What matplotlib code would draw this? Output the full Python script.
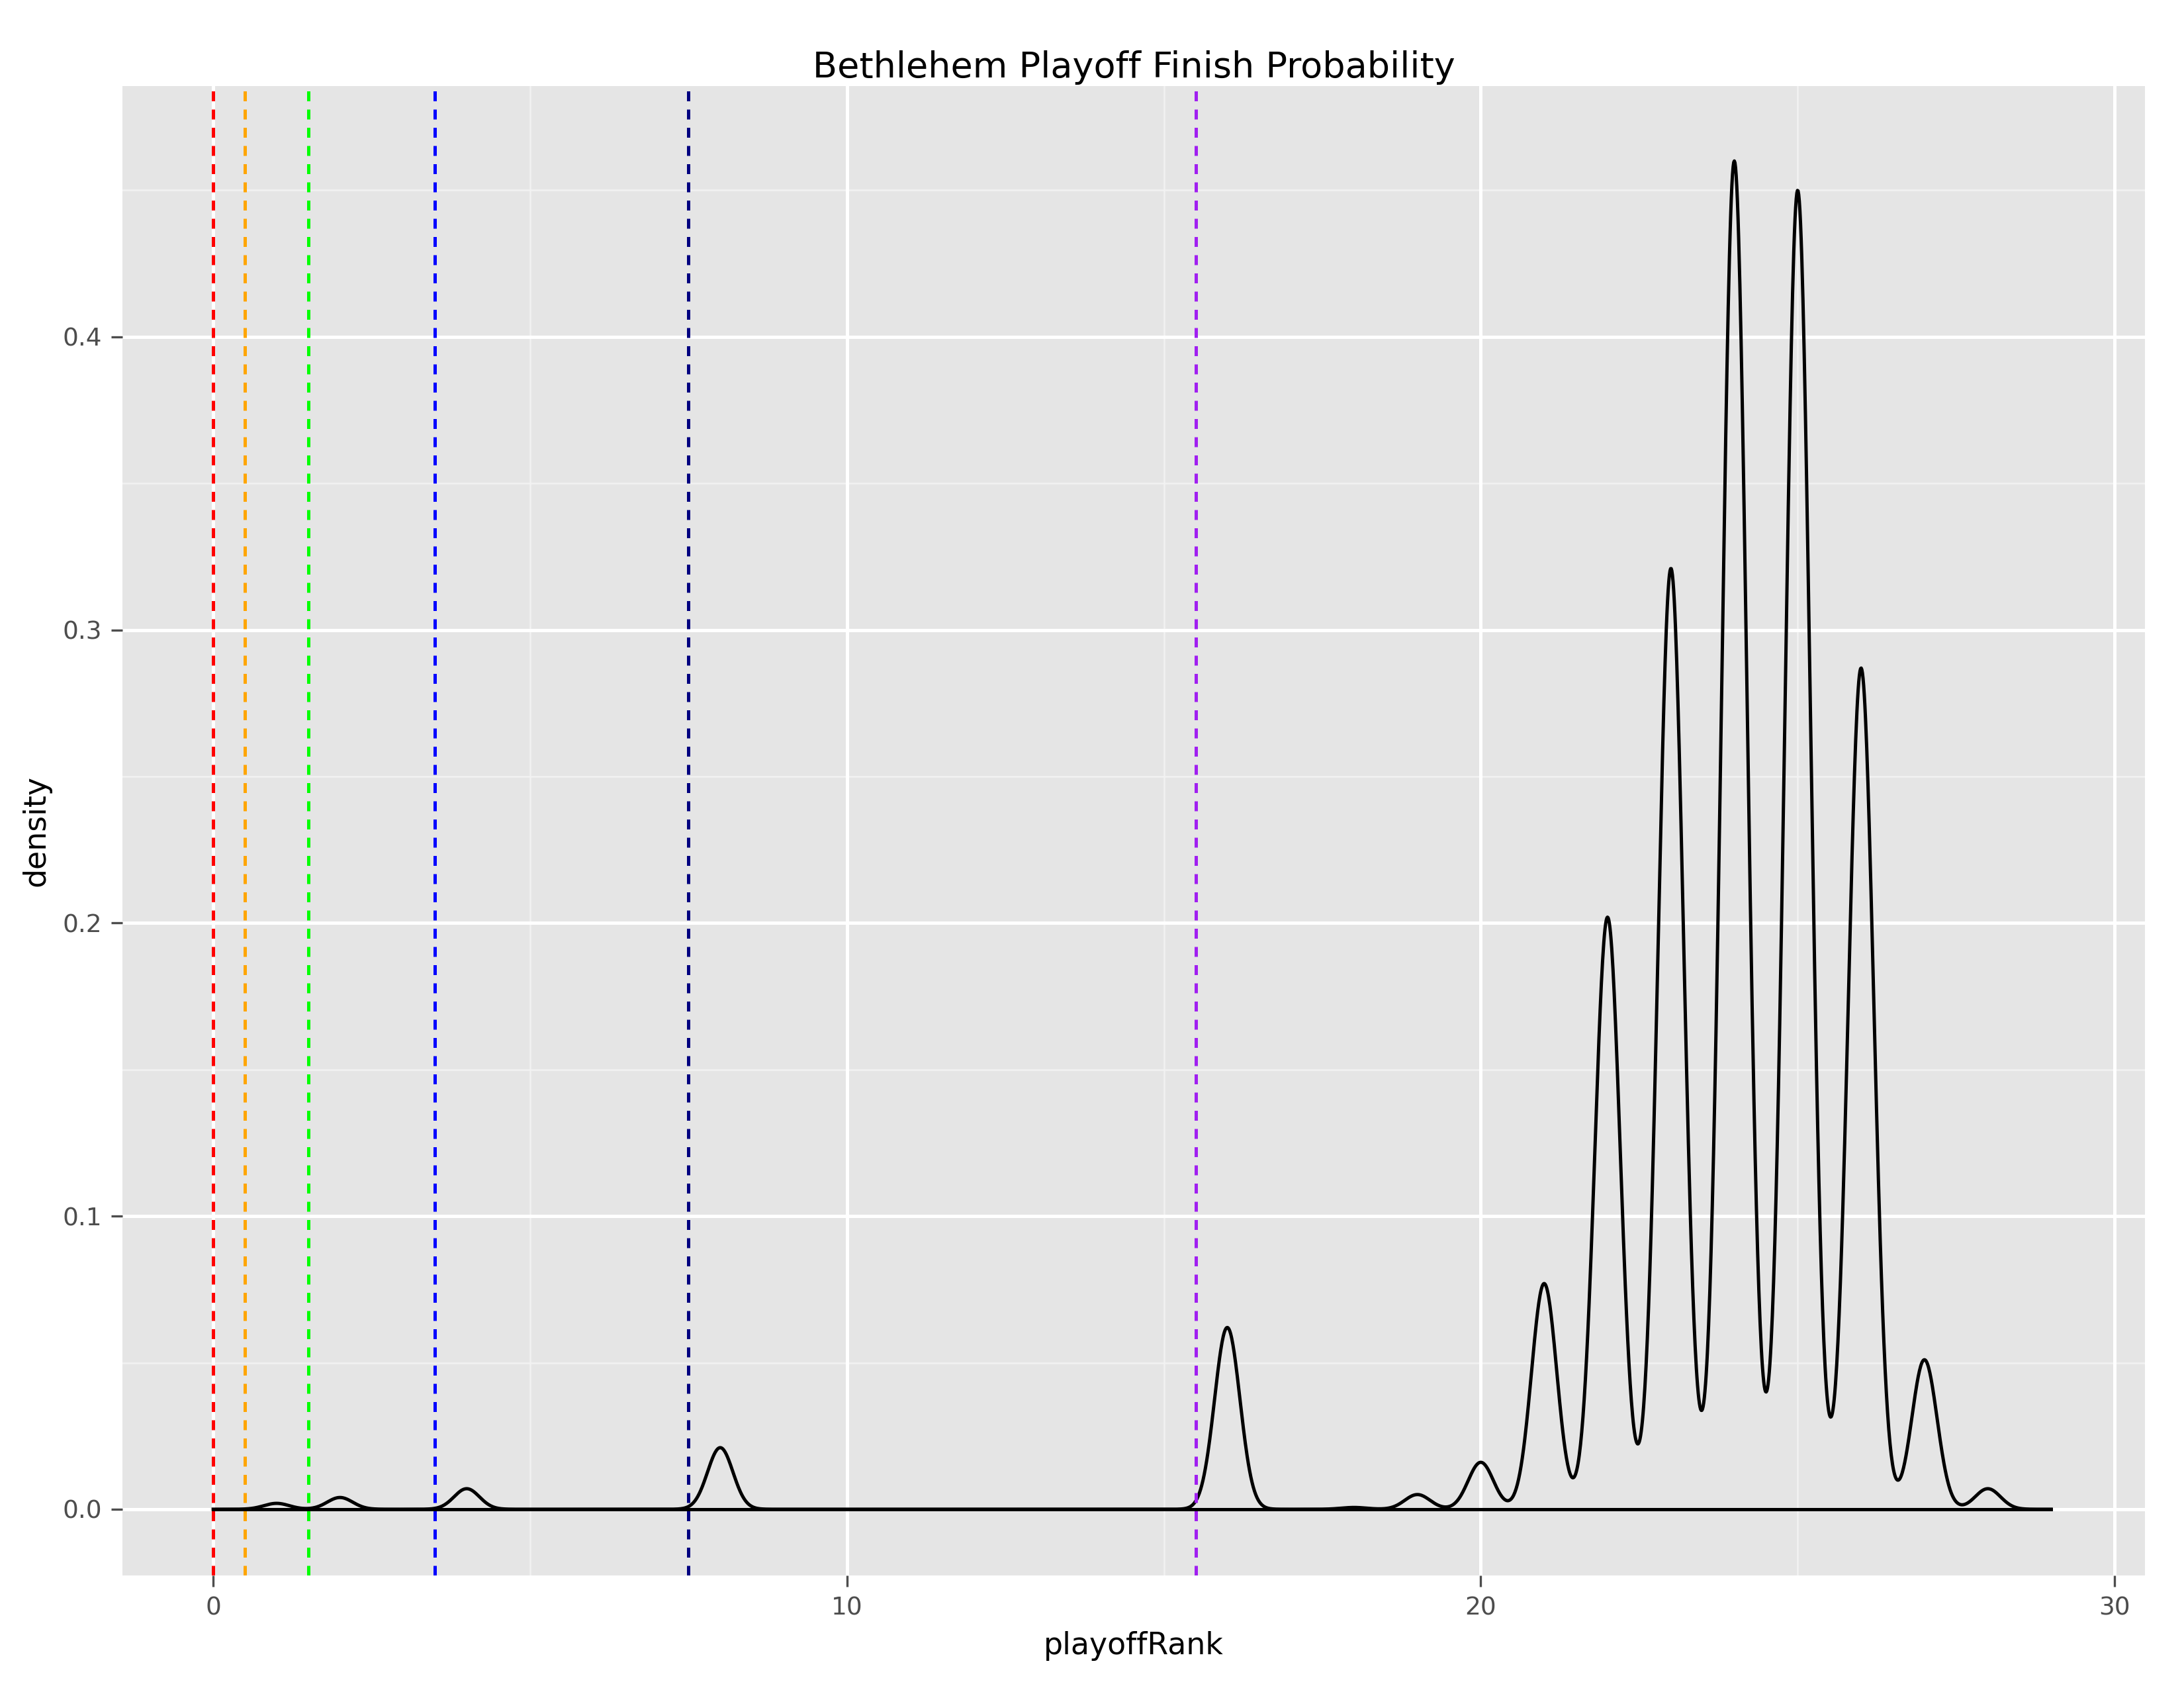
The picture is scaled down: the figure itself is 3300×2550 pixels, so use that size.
import numpy as np
import matplotlib
matplotlib.use("Agg")
import matplotlib.pyplot as plt

ranks = [1, 2, 4, 8, 16, 18, 19, 20, 21, 22, 23, 24, 25, 26, 27, 28]
peak_heights = [0.002, 0.004, 0.007, 0.021, 0.062, 0.0006, 0.005, 0.016, 0.077, 0.202, 0.321, 0.460, 0.450, 0.287, 0.051, 0.007]
bandwidth = 0.2
vlines_x = [0, 0.5, 1.5, 3.5, 7.5, 15.5]
vlines_c = ["#FF0000", "#FFA500", "#00FF00", "#0000FF", "#000080", "#A020F0"]

fig = plt.figure(figsize=(11, 8.5), dpi=300)
ax = fig.add_axes([88/1568, 1-1137/1218, (1540-88)/1568, (1137-62)/1218])
ax.set_facecolor("#E5E5E5")
ax.set_xlim(-1.43, 30.48)
ax.set_ylim(-0.0227, 0.4856)

for v in np.arange(5, 30, 10):
    ax.axvline(v, color="#F2F2F2", lw=0.6, zorder=0)
for v in np.arange(0.05, 0.5, 0.1):
    ax.axhline(v, color="#F2F2F2", lw=0.6, zorder=0)
for v in [0, 10, 20, 30]:
    ax.axvline(v, color="white", lw=1.2, zorder=0)
for v in [0, 0.1, 0.2, 0.3, 0.4]:
    ax.axhline(v, color="white", lw=1.2, zorder=0)

x = np.linspace(0, 29, 3000)
y = np.zeros_like(x)
for r, h in zip(ranks, peak_heights):
    y += h * np.exp(-0.5 * ((x - r) / bandwidth) ** 2)
ax.plot(x, y, color="black", lw=1.2, zorder=3)
ax.plot([0, 29], [0, 0], color="black", lw=1.2, zorder=3)

for xv, c in zip(vlines_x, vlines_c):
    ax.axvline(xv, color=c, lw=1.2, ls=(0, (3, 2.5)), zorder=4)

for s in ax.spines.values():
    s.set_visible(False)
ax.set_xticks([0, 10, 20, 30])
ax.set_yticks([0, 0.1, 0.2, 0.3, 0.4])
ax.set_yticklabels(["0.0", "0.1", "0.2", "0.3", "0.4"])
ax.tick_params(colors="#4D4D4D", labelsize=9, length=4, color="#4D4D4D")
ax.set_xlabel("playoffRank", fontsize=11)
ax.set_ylabel("density", fontsize=11)
ax.set_title("Bethlehem Playoff Finish Probability", fontsize=13, pad=3)
fig.savefig("out.png", dpi=300)
